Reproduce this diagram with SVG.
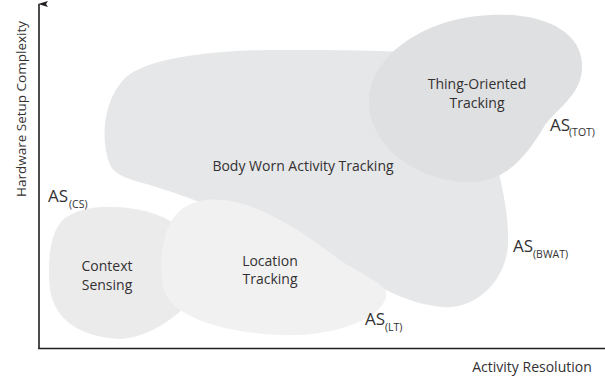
<svg xmlns="http://www.w3.org/2000/svg" width="605" height="379" viewBox="0 0 605 379">
  <defs>
    <marker id="arrow" viewBox="0 0 6 10" refX="3" refY="1" markerWidth="6" markerHeight="10" markerUnits="userSpaceOnUse" orient="auto-start-reverse">
      <path d="M0 10 L3 0 L6 10 L3 8 Z" fill="#231f20"/>
    </marker>
    <style>
      text { font-family: "Open Sans", "Liberation Sans", sans-serif; fill: #333132; }
      .lbl { font-size: 14px; text-anchor: middle; }
      .as { font-size: 17px; }
      .sub { font-size: 10.5px; }
      .axis { stroke: #231f20; stroke-width: 1.6; fill: none; }
    </style>
  </defs>
  <rect width="605" height="379" fill="#ffffff"/>

  <!-- regions -->
  <g id="body-worn">
    <path d="M110 165 C100 140 103 100 125 78 C150 56 220 50 280 50 C340 50 400 50 440 55 L480 100 C492 150 510 200 508 245 C505 285 472 310 442 307 C402 303 378 285 330 260 C270 230 200 200 150 185 C130 180 115 175 110 165 Z" fill="#e6e7e8"/>
    <text class="lbl" x="303" y="171">Body Worn Activity Tracking</text>
  </g>
  <g id="thing-oriented">
    <path d="M490 15 C540 12 585 30 582 70 C580 95 558 108 545 125 C530 150 510 182 470 182 C420 182 372 150 369 105 C366 60 420 18 490 15 Z" fill="#dfe0e1"/>
    <text class="lbl" x="477" y="89">Thing-Oriented</text>
    <text class="lbl" x="477" y="108">Tracking</text>
  </g>
  <g id="context-sensing">
    <path d="M110 207 C140 207 165 215 180 228 L192 300 C175 318 150 337 120 339 C80 337 55 320 50 290 C47 260 50 230 65 218 C80 208 95 207 110 207 Z" fill="#ebebec"/>
    <text class="lbl" x="107" y="271">Context</text>
    <text class="lbl" x="107" y="290">Sensing</text>
  </g>
  <g id="location-tracking">
    <path d="M205 200 C250 195 300 230 340 260 C370 280 392 285 385 300 C375 325 320 337 280 335 C230 333 180 320 166 295 C158 275 160 240 172 220 C180 207 192 202 205 200 Z" fill="#f1f1f2"/>
    <text class="lbl" x="270" y="266">Location</text>
    <text class="lbl" x="270" y="284">Tracking</text>
  </g>

  <!-- activity-space labels -->
  <g id="as-cs">
    <text class="as" x="48" y="202">AS</text>
    <text class="sub" x="69" y="208">(CS)</text>
  </g>
  <g id="as-tot">
    <text class="as" x="550" y="131">AS</text>
    <text class="sub" x="569" y="136">(TOT)</text>
  </g>
  <g id="as-bwat">
    <text class="as" x="513" y="252">AS</text>
    <text class="sub" x="533" y="258">(BWAT)</text>
  </g>
  <g id="as-lt">
    <text class="as" x="365" y="325">AS</text>
    <text class="sub" x="385" y="331">(LT)</text>
  </g>

  <!-- axes -->
  <g id="connectors">
    <path class="axis" d="M39 348.5 L39 4" marker-end="url(#arrow)"/>
    <path class="axis" d="M38.2 348.5 L605 348.5"/>
  </g>
  <text x="532" y="372" style="font-size:14px;text-anchor:middle">Activity Resolution</text>
  <text transform="translate(26 109) rotate(-90)" style="font-size:13.5px;text-anchor:middle">Hardware Setup Complexity</text>
</svg>
